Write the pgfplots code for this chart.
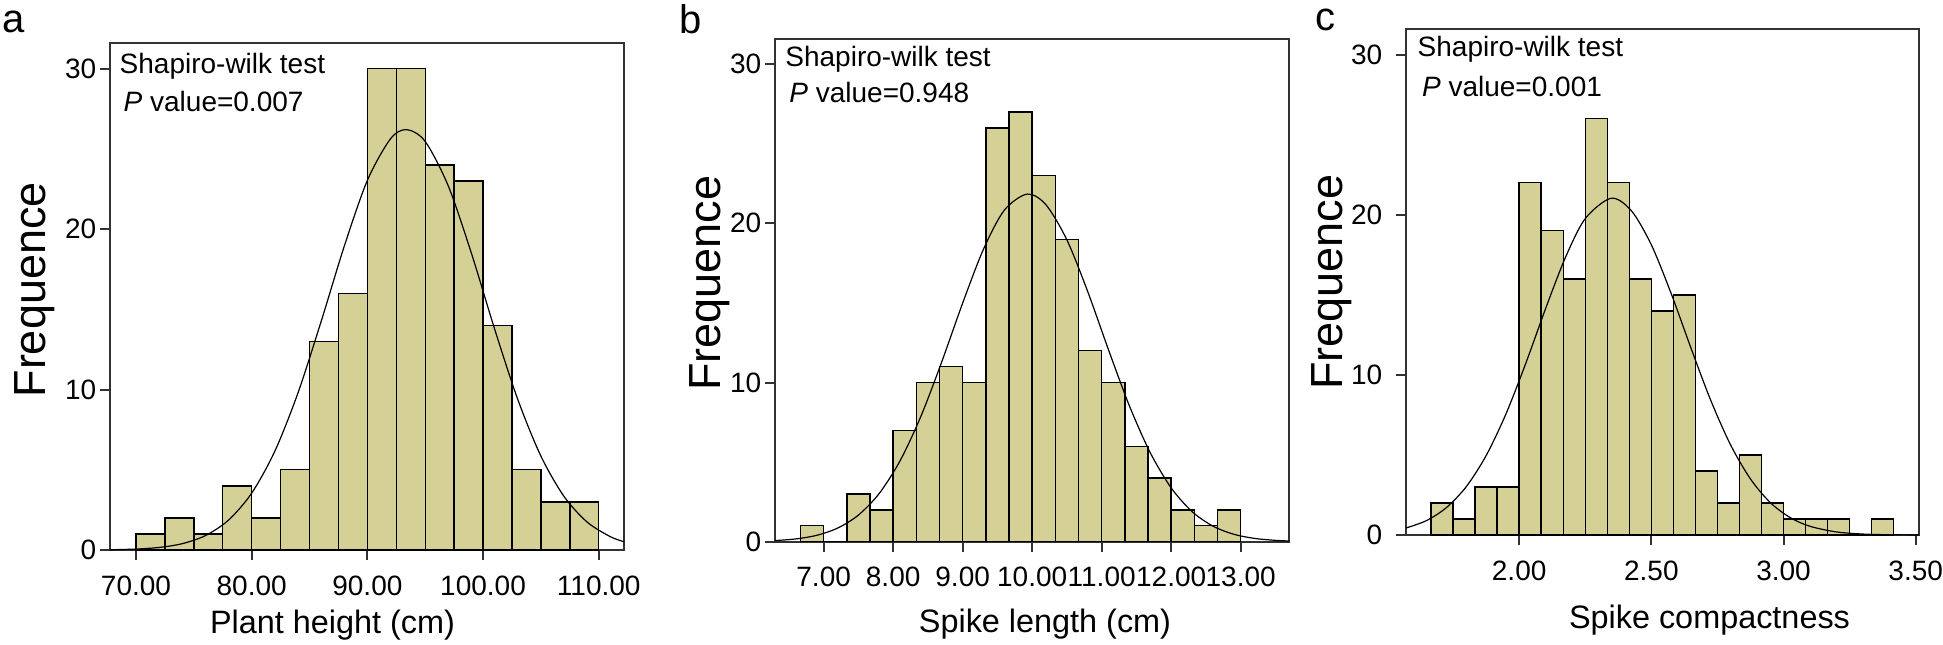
\documentclass[border=0pt]{standalone}
\usepackage{fontspec}
\setmainfont{Liberation Sans}
\usepackage{pgfplots}
\pgfplotsset{compat=1.18}
\definecolor{barfill}{RGB}{213,208,150}
\definecolor{framecol}{RGB}{50,50,50}

\pgfplotsset{
  histo/.style={
    scale only axis, anchor=south west, clip=false,
    ymin=0, ymax=31.6, ytick={0,10,20,30},
    tick pos=left, tick align=outside, major tick length=5pt,
    axis line style={draw=framecol, line width=1pt},
    every tick/.style={draw=framecol, line width=1pt},
    tick label style={font=\fontsize{14}{16}\selectfont},
    /pgf/number format/assume math mode=true,
    yticklabel style={anchor=east, inner sep=0pt, xshift=-1.65pt},
    xticklabel style={anchor=base, inner sep=0pt, yshift=-17.5pt,
      /pgf/number format/.cd, fixed, fixed zerofill, precision=2},
  },
  bars/.style={ybar interval, fill=barfill, draw=black, line width=0.7pt},
  fit/.style={smooth, black, line width=0.6pt, mark=none},
}
\tikzset{
  ylab/.style={rotate=90, anchor=base, inner sep=0pt, font=\fontsize{22.5}{26}\selectfont},
  xlab/.style={anchor=base, inner sep=0pt, font=\fontsize{16.2}{19}\selectfont},
  note/.style={anchor=base west, inner sep=0pt, font=\fontsize{14}{16}\selectfont},
}

\begin{document}
\begin{tikzpicture}
\path[use as bounding box] (0,0) rectangle (971.5pt,-322pt);

\node[anchor=base west, inner sep=0pt, font=\fontsize{20}{24}\selectfont] at (1pt,-16pt) {a};
\node[anchor=base west, inner sep=0pt, font=\fontsize{20}{24}\selectfont] at (339.5pt,-16.5pt) {b};
\node[anchor=base west, inner sep=0pt, font=\fontsize{20}{24}\selectfont] at (657.5pt,-15pt) {c};

% a: plant height
\begin{axis}[histo, at={(55pt,-275pt)}, width=257.15pt, height=253.5pt,
  xmin=67.75, xmax=112.21, xtick={70,80,90,100,110}]
\addplot[bars] coordinates {
  (70,1)(72.5,2)(75,1)(77.5,4)(80,2)(82.5,5)(85,13)(87.5,16)(90,30)
  (92.5,30)(95,24)(97.5,23)(100,14)(102.5,5)(105,3)(107.5,3)(110,0)};
\addplot[fit] coordinates {
  (67.75,0.017)(70,0.059)(72,0.160)(74,0.396)(76,0.899)(78,1.866)(80,3.546)
  (82,6.160)(84,9.791)(86,14.24)(88,18.93)(90,23.04)(92,25.63)(93.4,26.2)
  (95,25.46)(97,22.68)(99,18.48)(101,13.77)(103,9.387)(105,5.853)(107,3.338)
  (109,1.741)(111,0.832)(112.21,0.509)};
\node[note, xshift=4.65pt, yshift=-15.3pt] at (rel axis cs:0,1) {Shapiro-wilk test};
\node[note, xshift=6.65pt, yshift=-34.15pt] at (rel axis cs:0,1) {{\itshape P} value=0.007};
\node[ylab] at ([xshift=-32.15pt]rel axis cs:0,0.513) {Frequence};
\node[xlab] at ([yshift=-41.5pt]rel axis cs:0.4326,0) {Plant height (cm)};
\end{axis}

% b: spike length
\begin{axis}[histo, at={(387.5pt,-270.85pt)}, width=257.15pt, height=251.5pt,
  xmin=6.3, xmax=13.7, xtick={7,8,9,10,11,12,13}]
\addplot[bars] coordinates {
  (6.6667,1)(7.0,0)(7.3333,3)(7.6667,2)(8.0,7)(8.3333,10)(8.6667,11)(9.0,10)
  (9.3333,26)(9.6667,27)(10.0,23)(10.3333,19)(10.6667,12)(11.0,10)(11.3333,6)
  (11.6667,4)(12.0,2)(12.3333,1)(12.6667,2)(13.0,0)};
\addplot[fit] coordinates {
  (6.3,0.071)(6.6,0.175)(6.9,0.402)(7.2,0.853)(7.5,1.672)(7.8,3.033)(8.1,5.087)
  (8.4,7.886)(8.7,11.31)(9.0,14.99)(9.3,18.38)(9.6,20.83)(9.93,21.84)(10.2,21.16)
  (10.5,18.96)(10.8,15.71)(11.1,12.04)(11.4,8.529)(11.7,5.587)(12.0,3.384)
  (12.3,1.895)(12.6,0.982)(12.9,0.470)(13.2,0.208)(13.5,0.085)(13.7,0.045)};
\node[note, xshift=5pt, yshift=-14pt] at (rel axis cs:0,1) {Shapiro-wilk test};
\node[note, xshift=7pt, yshift=-32pt] at (rel axis cs:0,1) {{\itshape P} value=0.948};
\node[ylab] at ([xshift=-27.5pt]rel axis cs:0,0.514) {Frequence};
\node[xlab] at ([yshift=-45.5pt]rel axis cs:0.525,0) {Spike length (cm)};
\end{axis}

% c: spike compactness
\begin{axis}[histo, at={(703pt,-267.5pt)}, width=256.5pt, height=253pt,
  xmin=1.572, xmax=3.5125, xtick={2,2.5,3,3.5},
  yticklabel style={xshift=-5pt}]
\addplot[bars] coordinates {
  (1.6667,2)(1.75,1)(1.8333,3)(1.9167,3)(2.0,22)(2.0833,19)(2.1667,16)(2.25,26)
  (2.3333,22)(2.4167,16)(2.5,14)(2.5833,15)(2.6667,4)(2.75,2)(2.8333,5)(2.9167,2)
  (3.0,1)(3.0833,1)(3.1667,1)(3.25,0)(3.3333,1)(3.4167,0)};
\addplot[fit] coordinates {
  (1.572,0.439)(1.65,0.904)(1.725,1.714)(1.8,3.022)(1.875,4.957)(1.95,7.558)
  (2.025,10.72)(2.1,14.14)(2.175,17.33)(2.25,19.76)(2.348,21.03)(2.425,20.24)
  (2.5,18.12)(2.575,15.08)(2.65,11.67)(2.725,8.397)(2.8,5.619)(2.875,3.498)
  (2.95,2.024)(3.025,1.089)(3.1,0.545)(3.2,0.193)(3.3,0.060)(3.4,0.017)(3.5125,0.004)};
\node[note, xshift=5.65pt, yshift=-13.85pt] at (rel axis cs:0,1) {Shapiro-wilk test};
\node[note, xshift=7.85pt, yshift=-33.85pt] at (rel axis cs:0,1) {{\itshape P} value=0.001};
\node[ylab] at ([xshift=-32pt]rel axis cs:0,0.50) {Frequence};
\node[xlab] at ([yshift=-46.5pt]rel axis cs:0.5916,0) {Spike compactness};
\end{axis}
\end{tikzpicture}
\end{document}
